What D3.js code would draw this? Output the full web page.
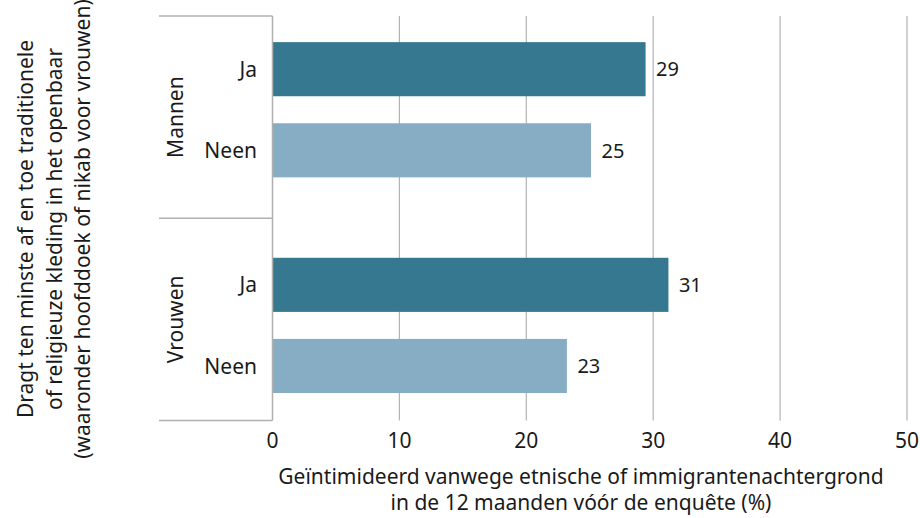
<!DOCTYPE html>
<html>
<head>
<meta charset="utf-8">
<script src="https://cdn.jsdelivr.net/npm/d3@7/dist/d3.min.js"></script>
<style>
  html, body { margin: 0; padding: 0; background: #fff; }
  svg { display: block; }
  text { font-family: "Noto Sans", Lato, sans-serif; fill: #1a1a1a; }
</style>
</head>
<body>
<svg id="chart" width="920" height="518"></svg>
<script>
// ---- data ----
const groups = ["Mannen", "Vrouwen"];
const answers = ["Ja", "Neen"];
const valuesMannen = [29.4, 25.1];
const valuesVrouwen = [31.2, 23.2];
const valueLabels = { Mannen: ["29", "25"], Vrouwen: ["31", "23"] };
const xTicks = [0, 10, 20, 30, 40, 50];
const yTitleLines = [
  "Dragt ten minste af en toe traditionele",
  "of religieuze kleding in het openbaar",
  "(waaronder hoofddoek of nikab voor vrouwen)"
];
const xTitleLines = [
  "Geïntimideerd vanwege etnische of immigrantenachtergrond",
  "in de 12 maanden vóór de enquête (%)"
];

const rows = [];
groups.forEach((g, gi) => {
  const vals = gi === 0 ? valuesMannen : valuesVrouwen;
  answers.forEach((a, ai) => rows.push({ group: g, answer: a, value: vals[ai], label: valueLabels[g][ai] }));
});

// ---- layout ----
const svg = d3.select("#chart");
const plotLeft = 272.5, plotRight = 907, plotTop = 16, plotBottom = 420.5;
const frameLeft = 159;
const colors = { Ja: "#35788f", Neen: "#87adc4" };
const fontSize = 21;

const x = d3.scaleLinear().domain([0, 50]).range([plotLeft, plotRight]);
const yGroup = d3.scaleBand().domain(groups).range([plotTop, plotBottom]).padding(0);
const innerAlign = { Mannen: 0.39, Vrouwen: 0.59 };
const yInner = {};
groups.forEach(g => {
  yInner[g] = d3.scaleBand().domain(answers)
    .range([yGroup(g), yGroup(g) + yGroup.bandwidth()])
    .paddingInner(0.333).paddingOuter(0.413).align(innerAlign[g]);
});

// gridlines
svg.append("g").selectAll("line").data(xTicks.filter(t => t > 0)).join("line")
  .attr("x1", d => x(d)).attr("x2", d => x(d))
  .attr("y1", plotTop).attr("y2", plotBottom)
  .attr("stroke", "#b3b3b3").attr("stroke-width", 1.2);

// bars
svg.append("g").selectAll("rect").data(rows).join("rect")
  .attr("x", x(0))
  .attr("y", d => yInner[d.group](d.answer))
  .attr("width", d => x(d.value) - x(0))
  .attr("height", d => yInner[d.group].bandwidth())
  .attr("fill", d => colors[d.answer]);

// frame lines (group separators + zero axis)
const frame = svg.append("g").attr("stroke", "#b0b0b0").attr("stroke-width", 1.5);
frame.append("line").attr("x1", x(0)).attr("x2", x(0)).attr("y1", plotTop).attr("y2", plotBottom);
const seps = [plotTop, ...groups.map(g => yGroup(g) + yGroup.bandwidth())];
frame.selectAll("line.sep").data(seps).join("line").attr("class", "sep")
  .attr("x1", frameLeft).attr("x2", x(0)).attr("y1", d => d).attr("y2", d => d);

// value labels
svg.append("g").selectAll("text").data(rows).join("text")
  .attr("x", d => x(d.value) + 10.5)
  .attr("y", d => yInner[d.group](d.answer) + yInner[d.group].bandwidth() / 2)
  .attr("dy", "0.36em")
  .attr("font-size", 20)
  .text(d => d.label);

// row labels
svg.append("g").selectAll("text").data(rows).join("text")
  .attr("x", 257)
  .attr("y", d => yInner[d.group](d.answer) + yInner[d.group].bandwidth() / 2)
  .attr("dy", "0.36em")
  .attr("text-anchor", "end")
  .attr("font-size", fontSize)
  .text(d => d.answer);

// group labels
svg.append("g").selectAll("text").data(groups).join("text")
  .attr("transform", g => `translate(183,${yGroup(g) + yGroup.bandwidth() / 2}) rotate(-90)`)
  .attr("text-anchor", "middle")
  .attr("font-size", fontSize)
  .text(g => g);

// x axis tick labels
svg.append("g").selectAll("text").data(xTicks).join("text")
  .attr("x", d => x(d)).attr("y", 448)
  .attr("text-anchor", "middle")
  .attr("font-size", fontSize)
  .text(d => d);

// x title
svg.append("g").selectAll("text").data(xTitleLines).join("text")
  .attr("x", 581).attr("y", (d, i) => 484 + i * 26)
  .attr("text-anchor", "middle")
  .attr("font-size", fontSize)
  .text(d => d);

// y title
svg.append("g").selectAll("text").data(yTitleLines).join("text")
  .attr("transform", (d, i) => `translate(${33 + i * 28.5},229) rotate(-90)`)
  .attr("text-anchor", "middle")
  .attr("font-size", fontSize)
  .text(d => d);
</script>
</body>
</html>
